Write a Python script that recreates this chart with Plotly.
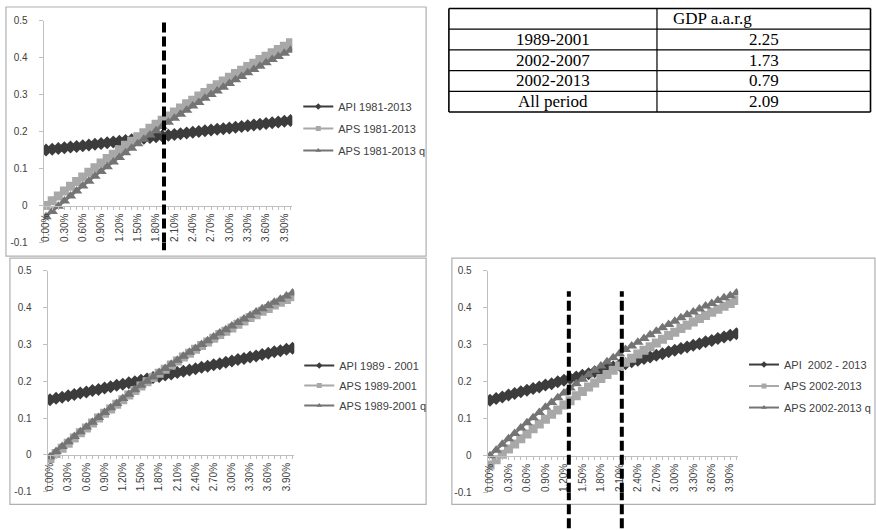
import plotly.graph_objects as go

W, H = 876, 530

# Growth-rate categories on the horizontal axis (0.00% .. 4.00%, step 0.10%)
growth_pct = [round(i * 0.1, 1) for i in range(41)]
tick_pos = growth_pct[::3]
tick_text = [f"{v:.2f}%" for v in tick_pos]

y_ticks = [-0.1, 0, 0.1, 0.2, 0.3, 0.4, 0.5]
y_tick_text = ["-0.1", "0", "0.1", "0.2", "0.3", "0.4", "0.5"]
y_range = [-0.1, 0.5]

# ---- 1981-2013 ----
api_1981 = [0.150, 0.152, 0.154, 0.156, 0.158, 0.160, 0.162, 0.164, 0.166, 0.168,
            0.170, 0.172, 0.174, 0.176, 0.178, 0.180, 0.182, 0.184, 0.186, 0.188,
            0.190, 0.192, 0.194, 0.196, 0.198, 0.200, 0.202, 0.204, 0.206, 0.208,
            0.210, 0.212, 0.214, 0.216, 0.218, 0.220, 0.222, 0.224, 0.226, 0.228, 0.230]
aps_1981 = [0.000, 0.013, 0.026, 0.039, 0.052, 0.065, 0.077, 0.090, 0.102, 0.115,
            0.127, 0.139, 0.151, 0.163, 0.174, 0.186, 0.197, 0.209, 0.220, 0.231,
            0.242, 0.253, 0.264, 0.275, 0.285, 0.296, 0.306, 0.317, 0.327, 0.337,
            0.347, 0.357, 0.366, 0.376, 0.385, 0.395, 0.404, 0.413, 0.422, 0.431, 0.440]
aps_1981_q = [-0.030, -0.016, -0.002, 0.012, 0.026, 0.039, 0.053, 0.066, 0.079, 0.092,
              0.105, 0.118, 0.130, 0.143, 0.155, 0.167, 0.179, 0.191, 0.202, 0.214,
              0.225, 0.236, 0.247, 0.258, 0.269, 0.279, 0.290, 0.300, 0.310, 0.320,
              0.330, 0.340, 0.349, 0.359, 0.368, 0.377, 0.386, 0.395, 0.403, 0.412, 0.420]

# ---- 1989-2001 ----
api_1989 = [0.150, 0.154, 0.157, 0.161, 0.164, 0.168, 0.171, 0.175, 0.178, 0.182,
            0.185, 0.189, 0.192, 0.196, 0.199, 0.203, 0.206, 0.210, 0.213, 0.217,
            0.220, 0.224, 0.227, 0.231, 0.234, 0.238, 0.241, 0.245, 0.248, 0.252,
            0.255, 0.259, 0.262, 0.266, 0.269, 0.273, 0.276, 0.280, 0.283, 0.287, 0.290]
aps_1989 = [-0.010, 0.004, 0.018, 0.032, 0.046, 0.060, 0.073, 0.087, 0.100, 0.113,
            0.125, 0.138, 0.150, 0.163, 0.175, 0.187, 0.199, 0.210, 0.222, 0.233,
            0.244, 0.255, 0.266, 0.276, 0.287, 0.297, 0.307, 0.317, 0.327, 0.336,
            0.345, 0.355, 0.364, 0.373, 0.381, 0.390, 0.398, 0.407, 0.415, 0.422, 0.430]
aps_1989_q = [-0.005, 0.009, 0.023, 0.036, 0.050, 0.063, 0.076, 0.089, 0.102, 0.115,
              0.128, 0.140, 0.153, 0.165, 0.177, 0.189, 0.200, 0.212, 0.224, 0.235,
              0.246, 0.257, 0.268, 0.279, 0.289, 0.300, 0.310, 0.320, 0.331, 0.340,
              0.350, 0.360, 0.369, 0.379, 0.388, 0.397, 0.406, 0.415, 0.423, 0.432, 0.440]

# ---- 2002-2013 ----
api_2002 = [0.150, 0.155, 0.159, 0.164, 0.168, 0.173, 0.177, 0.182, 0.186, 0.191,
            0.195, 0.200, 0.204, 0.209, 0.213, 0.218, 0.222, 0.227, 0.231, 0.236,
            0.240, 0.245, 0.249, 0.254, 0.258, 0.263, 0.267, 0.272, 0.276, 0.281,
            0.285, 0.290, 0.294, 0.299, 0.303, 0.308, 0.312, 0.317, 0.321, 0.326, 0.330]
aps_2002 = [-0.025, -0.011, 0.004, 0.018, 0.032, 0.046, 0.059, 0.073, 0.086, 0.099,
            0.112, 0.124, 0.137, 0.149, 0.162, 0.174, 0.186, 0.197, 0.209, 0.220,
            0.231, 0.243, 0.253, 0.264, 0.275, 0.285, 0.295, 0.305, 0.315, 0.325,
            0.334, 0.344, 0.353, 0.362, 0.371, 0.379, 0.388, 0.396, 0.404, 0.412, 0.420]
aps_2002_q = [0.000, 0.015, 0.031, 0.046, 0.060, 0.075, 0.089, 0.103, 0.117, 0.131,
              0.144, 0.157, 0.170, 0.183, 0.195, 0.207, 0.219, 0.231, 0.243, 0.254,
              0.265, 0.276, 0.287, 0.297, 0.307, 0.317, 0.327, 0.337, 0.346, 0.355,
              0.364, 0.373, 0.381, 0.389, 0.397, 0.405, 0.412, 0.420, 0.427, 0.433, 0.440]

# Reference growth rates marked with dashed verticals
ref_rates_1981 = [1.93]
ref_rates_2002 = [1.28, 2.14]

# Table of average annual GDP growth
table_header = ["", "GDP a.a.r.g"]
periods = ["1989-2001", "2002-2007", "2002-2013", "All period"]
gdp_aarg = [2.25, 1.73, 0.79, 2.09]

API_COLOR = "#3c3c3c"
APS_COLOR = "#a8a8a8"
APSQ_COLOR = "#747474"
AXIS_COLOR = "#bfbfbf"
FRAME_COLOR = "#b0b0b0"
TEXT_COLOR = "#404040"
FONT = "Liberation Sans, Arial, sans-serif"
SERIF = "Liberation Serif, Times New Roman, serif"


def px_x(p):
    return p / W


def px_y(p):
    return 1 - p / H


panels = [
    dict(ax="", labels=("API 1981-2013", "APS 1981-2013", "APS 1981-2013 q"),
         series=(api_1981, aps_1981, aps_1981_q), legend="legend",
         xdom=[px_x(41), px_x(292)], ydom=[px_y(242), px_y(15)]),
    dict(ax="2", labels=("API 1989 - 2001", "APS 1989-2001", "APS 1989-2001 q"),
         series=(api_1989, aps_1989, aps_1989_q), legend="legend2",
         xdom=[px_x(45), px_x(294)], ydom=[px_y(497), px_y(271)]),
    dict(ax="3", labels=("API  2002 - 2013", "APS 2002-2013", "APS 2002-2013 q"),
         series=(api_2002, aps_2002, aps_2002_q), legend="legend3",
         xdom=[px_x(489), px_x(742)], ydom=[px_y(498), px_y(271)]),
]

styles = [
    dict(symbol="diamond", color=API_COLOR, size=10),
    dict(symbol="square", color=APS_COLOR, size=9),
    dict(symbol="triangle-up", color=APSQ_COLOR, size=10),
]

fig = go.Figure()
layout = {}

for p in panels:
    xa = "x" + p["ax"]
    ya = "y" + p["ax"]
    for vals, st in zip(p["series"], styles):
        fig.add_trace(go.Scatter(
            x=growth_pct, y=vals, mode="lines+markers", xaxis=xa, yaxis=ya,
            line=dict(color=st["color"], width=2),
            marker=dict(symbol=st["symbol"], size=st["size"], color=st["color"]),
            showlegend=False, hoverinfo="skip"))
    # legend entries drawn with small markers
    for k, (name, st) in enumerate(zip(p["labels"], styles)):
        fig.add_trace(go.Scatter(
            x=[None], y=[None], mode="lines+markers", name=name, xaxis=xa, yaxis=ya,
            line=dict(color=st["color"], width=2),
            marker=dict(symbol=st["symbol"], size=5, color=st["color"]),
            legend=p["legend"], legendgroup=p["legend"] + str(k), showlegend=True))

    ydom = p["ydom"]
    zero_pos = ydom[0] + (0 - y_range[0]) / (y_range[1] - y_range[0]) * (ydom[1] - ydom[0])
    layout["xaxis" + p["ax"]] = dict(
        domain=p["xdom"], range=[-0.04, 4.03], anchor="free", position=zero_pos,
        showline=True, linecolor=AXIS_COLOR, linewidth=1, showgrid=False, zeroline=False,
        tickmode="array", tickvals=tick_pos, ticktext=tick_text, tickangle=-90,
        ticks="outside", ticklen=3, tickcolor=AXIS_COLOR,
        minor=dict(tickmode="array", tickvals=growth_pct, ticks="outside", ticklen=3,
                   tickcolor=AXIS_COLOR, showgrid=False),
        tickfont=dict(family=FONT, size=10, color=TEXT_COLOR))
    layout["yaxis" + p["ax"]] = dict(
        domain=ydom, range=y_range, anchor=xa,
        showline=True, linecolor=AXIS_COLOR, linewidth=1, showgrid=False, zeroline=False,
        tickmode="array", tickvals=y_ticks, ticktext=y_tick_text,
        ticks="outside", ticklen=4, tickcolor=AXIS_COLOR, ticklabelstandoff=9,
        tickfont=dict(family=FONT, size=10, color=TEXT_COLOR))

legend_common = dict(xanchor="left", yanchor="top", bgcolor="rgba(0,0,0,0)",
                     font=dict(family=FONT, size=11, color=TEXT_COLOR),
                     itemwidth=30, borderwidth=0, traceorder="grouped")
layout["legend"] = dict(x=px_x(298), y=px_y(88), tracegroupgap=3, **legend_common)
layout["legend2"] = dict(x=px_x(299), y=px_y(353), tracegroupgap=1, **legend_common)
layout["legend3"] = dict(x=px_x(748), y=px_y(352), tracegroupgap=2.5, **legend_common)

shapes = []
annotations = []
# chart-area frames
for x0, y0, x1, y1 in [(3, 1, 427, 256), (7, 258, 427, 510), (453, 258, 880, 510)]:
    shapes.append(dict(type="rect", xref="paper", yref="paper",
                       x0=px_x(x0), x1=px_x(x1), y0=px_y(y1), y1=px_y(y0),
                       line=dict(color=FRAME_COLOR, width=1.2), fillcolor="rgba(0,0,0,0)"))

dash_line = dict(color="black", width=4, dash="10px,4px")
for r in ref_rates_1981:
    shapes.append(dict(type="line", xref="x", yref="y", x0=r, x1=r, y0=-0.1, y1=0.5,
                       line=dash_line, layer="above"))
    shapes.append(dict(type="line", xref="x", yref="y domain", x0=r, x1=r, y0=-0.035, y1=0,
                       line=dash_line, layer="above"))
for r in ref_rates_2002:
    shapes.append(dict(type="line", xref="x3", yref="y3", x0=r, x1=r, y0=-0.1, y1=0.445,
                       line=dash_line, layer="above"))
    shapes.append(dict(type="line", xref="x3", yref="y3 domain", x0=r, x1=r, y0=-0.16, y1=0,
                       line=dash_line, layer="above"))

# ---- table: grid lines and cell text ----
tbl_left, tbl_mid, tbl_right = 450, 660, 875.5
tbl_top, row_h = 2.5, 21.2
n_rows = len(periods) + 1
row_edges = [tbl_top + i * row_h for i in range(n_rows + 1)]
for i, yy in enumerate(row_edges):
    outer = i in (0, n_rows)
    shapes.append(dict(type="line", xref="paper", yref="paper",
                       x0=px_x(tbl_left), x1=px_x(tbl_right), y0=px_y(yy), y1=px_y(yy),
                       line=dict(color="black", width=1.6 if outer else 1.2)))
for xx, wdt in [(tbl_left, 1.6), (tbl_mid, 1.2), (tbl_right, 1.6)]:
    shapes.append(dict(type="line", xref="paper", yref="paper",
                       x0=px_x(xx), x1=px_x(xx), y0=px_y(row_edges[0]), y1=px_y(row_edges[-1]),
                       line=dict(color="black", width=wdt)))

cell_font = dict(family=SERIF, size=17, color="black")
annotations.append(dict(xref="paper", yref="paper", x=px_x(tbl_mid + 14),
                        y=px_y((row_edges[0] + row_edges[1]) / 2), text=table_header[1],
                        showarrow=False, xanchor="left", yanchor="middle", font=cell_font))
for i, (per, val) in enumerate(zip(periods, gdp_aarg)):
    yc = px_y((row_edges[i + 1] + row_edges[i + 2]) / 2)
    annotations.append(dict(xref="paper", yref="paper", x=px_x((tbl_left + tbl_mid) / 2), y=yc,
                            text=per, showarrow=False, xanchor="center", yanchor="middle",
                            font=cell_font))
    annotations.append(dict(xref="paper", yref="paper", x=px_x((tbl_mid + tbl_right) / 2), y=yc,
                            text=f"{val:.2f}", showarrow=False, xanchor="center",
                            yanchor="middle", font=cell_font))

fig.update_layout(width=W, height=H, margin=dict(l=0, r=0, t=0, b=0),
                  paper_bgcolor="white", plot_bgcolor="white",
                  shapes=shapes, annotations=annotations, **layout)

fig.write_html("out.html")
